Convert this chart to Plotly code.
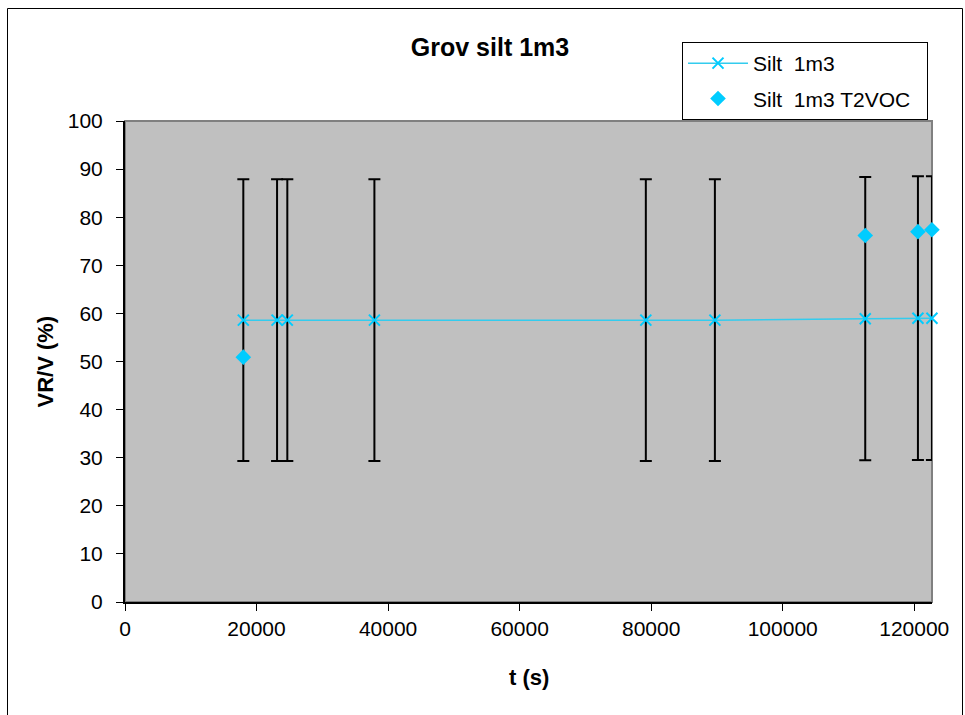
import plotly.graph_objects as go

# Measurement times (s) and VR/V values (%)
t_silt = [17990, 23120, 24680, 37920, 79190, 89690, 112550, 120560, 122690]
vr_silt = [58.6, 58.6, 58.6, 58.6, 58.6, 58.6, 58.9, 59.0, 59.0]

t_t2voc = [17990, 112550, 120560, 122690]
vr_t2voc = [50.9, 76.2, 77.0, 77.4]

x_ticks = [0, 20000, 40000, 60000, 80000, 100000, 120000]
y_ticks = [0, 10, 20, 30, 40, 50, 60, 70, 80, 90, 100]

FONT = "Liberation Sans, Arial, sans-serif"
CYAN_LINE = "#33CCEE"
CYAN = "#00CCFF"

fig = go.Figure()

fig.add_trace(go.Scatter(
    x=t_silt, y=vr_silt, name="Silt  1m3",
    mode="lines+markers",
    line=dict(color=CYAN_LINE, width=1.5),
    marker=dict(symbol="x-thin-open", size=11, color=CYAN,
                line=dict(color=CYAN, width=2)),
    error_y=dict(type="percent", value=50, color="black",
                 thickness=2, width=6),
    cliponaxis=False, legendgroup="a",
))

fig.add_trace(go.Scatter(
    x=t_t2voc, y=vr_t2voc, name="Silt  1m3 T2VOC  ",
    mode="markers",
    marker=dict(symbol="diamond", size=12, color=CYAN),
    cliponaxis=False, legendgroup="b",
))

L, R, T, B = 125, 33, 121, 113
W, H = 965, 715
pw, ph = W - L - R, H - T - B

def px(xp):
    return (xp - L) / pw

def py(yp):
    return (H - B - yp) / ph

shapes = [
    # grey frame of the plotting area
    dict(type="rect", xref="paper", yref="paper", x0=0, x1=1, y0=0, y1=1,
         line=dict(color="#808080", width=2), layer="below"),
    # outer chart border
    dict(type="rect", xref="paper", yref="paper",
         x0=px(7.5), x1=px(962.5), y0=py(725), y1=py(8.5),
         line=dict(color="black", width=1)),
]

annotations = [
    dict(text="<b>t (s)</b>", xref="paper", yref="paper",
         x=0.5, y=py(677), xanchor="center", yanchor="middle",
         showarrow=False, font=dict(size=22, color="black", family=FONT)),
    dict(text="<b>VR/V (%)</b>", xref="paper", yref="paper",
         x=px(45), y=0.5, xanchor="center", yanchor="middle", textangle=-90,
         showarrow=False, font=dict(size=22, color="black", family=FONT)),
]

fig.update_layout(
    width=W, height=H,
    margin=dict(l=L, r=R, t=T, b=B),
    paper_bgcolor="white",
    plot_bgcolor="#C0C0C0",
    font=dict(family=FONT, size=21, color="black"),
    title=dict(text="<b>Grov silt 1m3</b>", x=490 / W, xref="container",
               xanchor="center", y=1 - 47 / H, yanchor="middle",
               font=dict(size=25, color="black", family=FONT)),
    legend=dict(x=px(682), y=py(42), xanchor="left", yanchor="top",
                bgcolor="white", bordercolor="black", borderwidth=1,
                font=dict(size=21, family=FONT, color="black"),
                itemwidth=60, traceorder="grouped", tracegroupgap=5),
    shapes=shapes,
    annotations=annotations,
    showlegend=True,
)

fig.update_xaxes(
    range=[0, 122700], tickvals=x_ticks, tickformat="d",
    showgrid=False, zeroline=False,
    showline=True, linecolor="black", linewidth=2,
    ticks="outside", ticklen=7, tickcolor="black", tickwidth=1,
    tickfont=dict(size=21, family=FONT, color="black"),
)
fig.update_yaxes(
    range=[0, 100], tickvals=y_ticks,
    showgrid=False, zeroline=False,
    showline=True, linecolor="black", linewidth=2,
    ticks="outside", ticklen=7, tickcolor="black", tickwidth=1,
    ticklabelstandoff=9,
    tickfont=dict(size=21, family=FONT, color="black"),
)

fig.write_html("out.html")
